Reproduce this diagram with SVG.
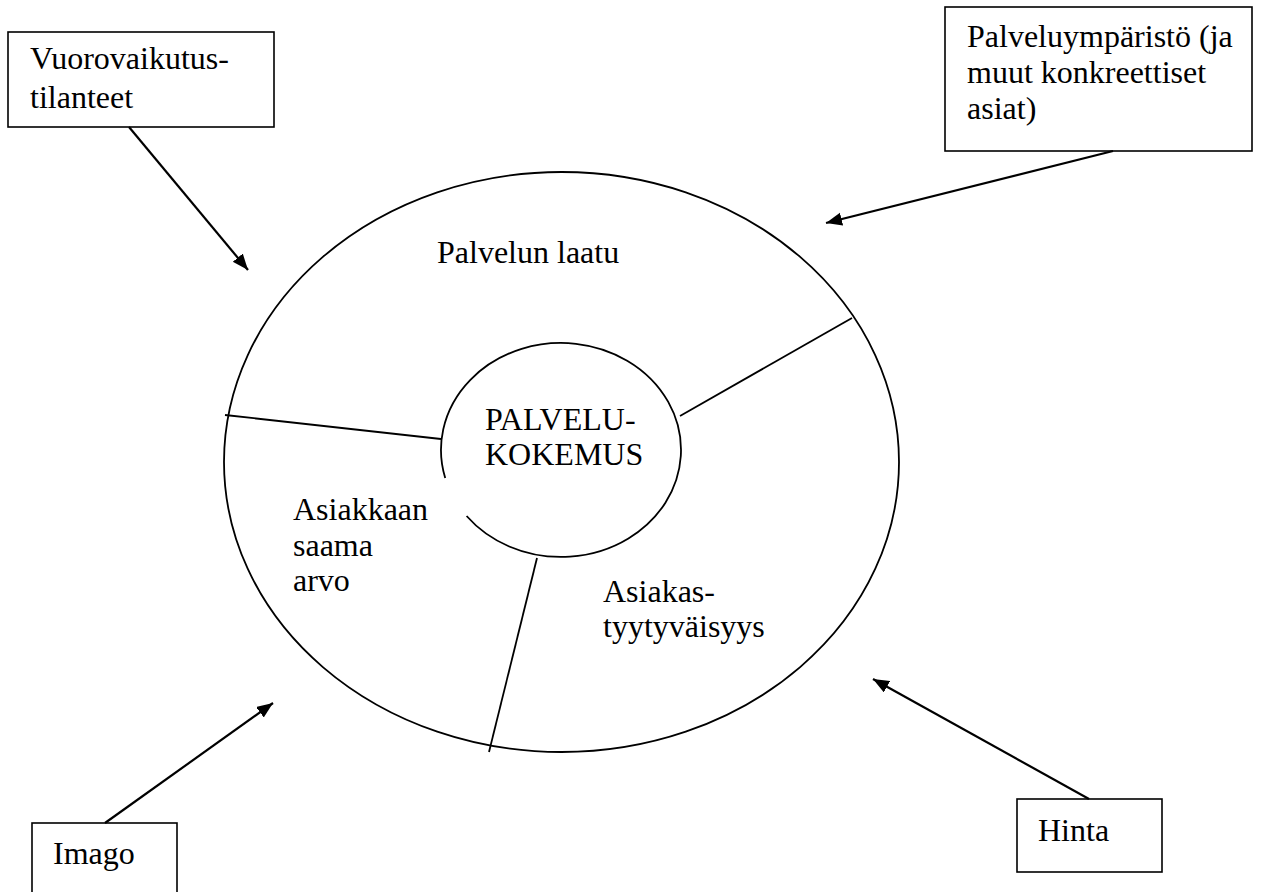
<svg xmlns="http://www.w3.org/2000/svg" width="1262" height="892" viewBox="0 0 1262 892">
<style>
.t{font-family:"Liberation Serif","Times New Roman",serif;font-size:32px;fill:#000}
.box{fill:#fff;stroke:#000;stroke-width:1.6}
.shape{fill:none;stroke:#000;stroke-width:1.8}
.arr{fill:none;stroke:#000;stroke-width:2.2;marker-end:url(#ah)}
</style>
<defs>
<marker id="ah" markerUnits="userSpaceOnUse" markerWidth="18" markerHeight="14" refX="16" refY="6.5" orient="auto">
<path d="M0,0 L16,6.5 L0,13 z" fill="#000"/>
</marker>
</defs>
<rect width="1262" height="892" fill="#fff"/>
<g id="circle-diagram">
<ellipse class="shape" cx="561.5" cy="462" rx="337.5" ry="290"/>
<path class="shape" d="M445.2,478 A120,107 0 1 1 466.6,516"/>
<line class="shape" x1="225" y1="415" x2="441" y2="439"/>
<line class="shape" x1="680" y1="416" x2="852" y2="318"/>
<line class="shape" x1="537" y1="558" x2="489" y2="752"/>
</g>
<g id="palvelukokemus">
<text class="t" x="485" y="430">PALVELU-</text>
<text class="t" x="485" y="465">KOKEMUS</text>
</g>
<g id="palvelun-laatu">
<text class="t" x="437" y="263">Palvelun laatu</text>
</g>
<g id="asiakkaan-saama-arvo">
<text class="t" x="293" y="520">Asiakkaan</text>
<text class="t" x="293" y="556">saama</text>
<text class="t" x="293" y="591">arvo</text>
</g>
<g id="asiakastyytyvaisyys">
<text class="t" x="603" y="602">Asiakas-</text>
<text class="t" x="603" y="637">tyytyväisyys</text>
</g>
<g id="vuorovaikutustilanteet">
<rect class="box" x="8" y="32" width="266" height="95"/>
<text class="t" x="30" y="69">Vuorovaikutus-</text>
<text class="t" x="30" y="108">tilanteet</text>
</g>
<g id="palveluymparisto">
<rect class="box" x="945" y="7" width="307" height="144"/>
<text class="t" x="967" y="47">Palveluympäristö (ja</text>
<text class="t" x="967" y="83">muut konkreettiset</text>
<text class="t" x="967" y="119">asiat)</text>
</g>
<g id="imago">
<rect class="box" x="32" y="823" width="145" height="80"/>
<text class="t" x="53" y="864">Imago</text>
</g>
<g id="hinta">
<rect class="box" x="1017" y="799" width="145" height="73"/>
<text class="t" x="1038" y="841">Hinta</text>
</g>
<g id="connectors">
<line class="arr" x1="129" y1="127" x2="248" y2="270"/>
<line class="arr" x1="1113" y1="151" x2="826" y2="223"/>
<line class="arr" x1="105" y1="823" x2="273" y2="703"/>
<line class="arr" x1="1089" y1="799" x2="873" y2="679"/>
</g>
</svg>
